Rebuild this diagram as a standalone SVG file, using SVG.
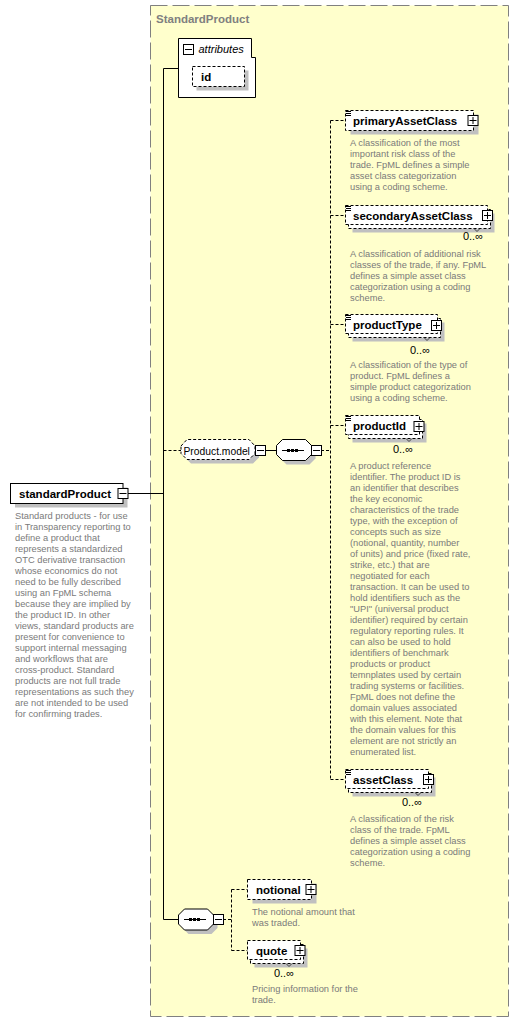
<svg xmlns="http://www.w3.org/2000/svg" xmlns:xlink="http://www.w3.org/1999/xlink" width="519" height="1023" viewBox="0 0 519 1023">
<style>
.frame{fill:#ffffcc;stroke:#808080;stroke-dasharray:17,5}
.box{fill:#fff;stroke:#000;stroke-dasharray:3,2}
.sbox{fill:#fff;stroke:#000}
.shadow{fill:#c0c0c0}
.conn{stroke:#000;fill:none}
.dconn{stroke:#000;fill:none;stroke-dasharray:3,2}
.lbl{font-family:"Liberation Sans",Arial,sans-serif;font-size:11.5px;font-weight:bold;fill:#000}
.title{font-family:"Liberation Sans",Arial,sans-serif;font-size:11.5px;font-weight:bold;fill:#808080}
.desc{font-family:"Liberation Sans",Arial,sans-serif;font-size:9.3px;fill:#7a7a7a}
.occ{font-family:"Liberation Sans",Arial,sans-serif;font-size:11px;fill:#000}
.grp{font-family:"Liberation Sans",Arial,sans-serif;font-size:10.3px;fill:#000}
.ital{font-family:"Liberation Sans",Arial,sans-serif;font-size:11px;font-style:italic;fill:#000}
.notch{stroke:#404040;fill:none}
</style>
<defs>
<g id="plus"><rect x="0.5" y="0.5" width="10" height="10" fill="#fff" stroke="#000"/><path d="M2 5.5H9M5.5 2V9" stroke="#000"/></g>
<g id="minus"><rect x="0.5" y="0.5" width="10" height="10" fill="#fff" stroke="#000"/><path d="M2 5.5H9" stroke="#000"/></g>
<path id="simple" d="M346 111.5h5M346 113.5h5M346 115.5h5" stroke="#000"/>
</defs>

<rect class="frame" x="150.5" y="5.5" width="358" height="1011"/>
<text class="title" x="156" y="23">StandardProduct</text>

<g id="connectors">
<path class="conn" d="M163.5 68.5V919.5M163.5 68.5H178.5M128 493.5H163.5M265 450.5H276.5M163.5 919.5H178.5"/>
<path class="dconn" d="M163.5 450.5H181M321 450.5H330.5M330.5 120.5V779.5M330.5 120.5H345.5M330.5 215.5H345.5M330.5 324.5H345.5M330.5 425.5H345.5M330.5 779.5H345.5"/>
<path class="dconn" d="M223 919.5H231.5M231.5 889.5V950.5M231.5 889.5H247.5M231.5 950.5H247.5"/>
</g>

<g id="standardProduct">
<rect class="shadow" x="15" y="487.5" width="112.5" height="20"/>
<rect class="sbox" x="10.5" y="483.5" width="112.5" height="20"/>
<text class="lbl" x="19" y="497.5">standardProduct</text>
<use xlink:href="#minus" x="117.5" y="488"/>
<text class="desc">
<tspan x="15" y="518.5">Standard products - for use</tspan>
<tspan x="15" y="529.5">in Transparency reporting to</tspan>
<tspan x="15" y="540.5">define a product that</tspan>
<tspan x="15" y="551.5">represents a standardized</tspan>
<tspan x="15" y="562.5">OTC derivative transaction</tspan>
<tspan x="15" y="573.5">whose economics do not</tspan>
<tspan x="15" y="584.5">need to be fully described</tspan>
<tspan x="15" y="595.5">using an FpML schema</tspan>
<tspan x="15" y="606.5">because they are implied by</tspan>
<tspan x="15" y="617.5">the product ID. In other</tspan>
<tspan x="15" y="628.5">views, standard products are</tspan>
<tspan x="15" y="639.5">present for convenience to</tspan>
<tspan x="15" y="650.5">support internal messaging</tspan>
<tspan x="15" y="661.5">and workflows that are</tspan>
<tspan x="15" y="672.5">cross-product. Standard</tspan>
<tspan x="15" y="683.5">products are not full trade</tspan>
<tspan x="15" y="694.5">representations as such they</tspan>
<tspan x="15" y="705.5">are not intended to be used</tspan>
<tspan x="15" y="716.5">for confirming trades.</tspan>
</text>
</g>

<g id="attributes">
<path class="sbox" d="M178.5 38.5H251.5V57.5H255.5V97.5H178.5Z"/>
<use xlink:href="#minus" x="183" y="44"/>
<text class="ital" x="198.5" y="52.5">attributes</text>
</g>
<g id="id">
<rect class="shadow" x="196.5" y="70.5" width="52" height="20"/>
<rect class="box" x="192.5" y="66.5" width="52" height="20"/>
<text class="lbl" x="201" y="80.5">id</text>
</g>

<g id="Product.model">
<polygon class="shadow" points="185,450 191,443.5 253,443.5 259,450 259,457.5 253,463.5 191,463.5 185,457.5"/>
<polygon class="box" points="181,446 187,439.5 249,439.5 255,446 255,453.5 249,459.5 187,459.5 181,453.5"/>
<text class="grp" x="183.5" y="454.5">Product.model</text>
<use xlink:href="#minus" x="255" y="445"/>
</g>

<g id="sequence1">
<polygon class="shadow" points="280.5,450 286.5,443.5 309.5,443.5 315.5,450 315.5,458.5 309.5,464.5 286.5,464.5 280.5,458.5"/>
<polygon class="sbox" points="276.5,445.5 282.5,439.5 305.5,439.5 311.5,445.5 311.5,454.5 305.5,460.5 282.5,460.5 276.5,454.5"/>
<path class="conn" d="M282 450.5H304"/>
<rect x="287" y="449" width="3" height="3"/><rect x="291" y="449" width="3" height="3"/><rect x="295" y="449" width="3" height="3"/>
<use xlink:href="#minus" x="311" y="445"/>
</g>

<g id="primaryAssetClass">
<rect class="shadow" x="350.5" y="114.5" width="128" height="20"/>
<rect class="box" x="345.5" y="110.5" width="128" height="20"/>
<use xlink:href="#simple"/>
<text class="lbl" x="353" y="124.5">primaryAssetClass</text>
<use xlink:href="#plus" x="467.5" y="115"/>
<text class="desc">
<tspan x="350" y="146">A classification of the most</tspan>
<tspan x="350" y="157">important risk class of the</tspan>
<tspan x="350" y="168">trade. FpML defines a simple</tspan>
<tspan x="350" y="179">asset class categorization</tspan>
<tspan x="350" y="190">using a coding scheme.</tspan>
</text>
</g>

<g id="secondaryAssetClass">
<rect class="shadow" x="352.5" y="213.5" width="142" height="19"/>
<rect class="box" x="348.5" y="209.5" width="142" height="19"/>
<path class="notch" d="M474 228.5l3 3 3-3"/>
<rect class="box" x="345.5" y="205.5" width="142" height="19"/>
<use xlink:href="#simple" y="95"/>
<text class="lbl" x="353" y="219.5">secondaryAssetClass</text>
<use xlink:href="#plus" x="482" y="210"/>
<text class="occ" x="483" y="240" text-anchor="end">0..∞</text>
<text class="desc">
<tspan x="350" y="257">A classification of additional risk</tspan>
<tspan x="350" y="268">classes of the trade, if any. FpML</tspan>
<tspan x="350" y="279">defines a simple asset class</tspan>
<tspan x="350" y="290">categorization using a coding</tspan>
<tspan x="350" y="301">scheme.</tspan>
</text>
</g>

<g id="productType">
<rect class="shadow" x="352.5" y="322.5" width="92" height="19"/>
<rect class="box" x="348.5" y="318.5" width="92" height="19"/>
<path class="notch" d="M424 337.5l3 3 3-3"/>
<rect class="box" x="345.5" y="314.5" width="92" height="19"/>
<use xlink:href="#simple" y="204"/>
<text class="lbl" x="353" y="328.5">productType</text>
<use xlink:href="#plus" x="431" y="320"/>
<text class="occ" x="430" y="354" text-anchor="end">0..∞</text>
<text class="desc">
<tspan x="350" y="368">A classification of the type of</tspan>
<tspan x="350" y="379">product. FpML defines a</tspan>
<tspan x="350" y="390">simple product categorization</tspan>
<tspan x="350" y="401">using a coding scheme.</tspan>
</text>
</g>

<g id="productId">
<rect class="shadow" x="352.5" y="423.5" width="74" height="19"/>
<rect class="box" x="348.5" y="419.5" width="74" height="19"/>
<path class="notch" d="M406 438.5l3 3 3-3"/>
<rect class="box" x="345.5" y="415.5" width="74" height="19"/>
<use xlink:href="#simple" y="305"/>
<text class="lbl" x="353" y="429.5">productId</text>
<use xlink:href="#plus" x="413.5" y="421"/>
<text class="occ" x="413" y="453" text-anchor="end">0..∞</text>
<text class="desc">
<tspan x="350" y="468.5">A product reference</tspan>
<tspan x="350" y="479.5">identifier. The product ID is</tspan>
<tspan x="350" y="490.5">an identifier that describes</tspan>
<tspan x="350" y="501.5">the key economic</tspan>
<tspan x="350" y="512.5">characteristics of the trade</tspan>
<tspan x="350" y="523.5">type, with the exception of</tspan>
<tspan x="350" y="534.5">concepts such as size</tspan>
<tspan x="350" y="545.5">(notional, quantity, number</tspan>
<tspan x="350" y="556.5">of units) and price (fixed rate,</tspan>
<tspan x="350" y="567.5">strike, etc.) that are</tspan>
<tspan x="350" y="578.5">negotiated for each</tspan>
<tspan x="350" y="589.5">transaction. It can be used to</tspan>
<tspan x="350" y="600.5">hold identifiers such as the</tspan>
<tspan x="350" y="611.5">"UPI" (universal product</tspan>
<tspan x="350" y="622.5">identifier) required by certain</tspan>
<tspan x="350" y="633.5">regulatory reporting rules. It</tspan>
<tspan x="350" y="644.5">can also be used to hold</tspan>
<tspan x="350" y="655.5">identifiers of benchmark</tspan>
<tspan x="350" y="666.5">products or product</tspan>
<tspan x="350" y="677.5">temnplates used by certain</tspan>
<tspan x="350" y="688.5">trading systems or facilities.</tspan>
<tspan x="350" y="699.5">FpML does not define the</tspan>
<tspan x="350" y="710.5">domain values associated</tspan>
<tspan x="350" y="721.5">with this element. Note that</tspan>
<tspan x="350" y="732.5">the domain values for this</tspan>
<tspan x="350" y="743.5">element are not strictly an</tspan>
<tspan x="350" y="754.5">enumerated list.</tspan>
</text>
</g>

<g id="assetClass">
<rect class="shadow" x="352.5" y="777.5" width="83" height="19"/>
<rect class="box" x="348.5" y="773.5" width="83" height="19"/>
<path class="notch" d="M415 792.5l3 3 3-3"/>
<rect class="box" x="345.5" y="769.5" width="83" height="19"/>
<use xlink:href="#simple" y="659"/>
<text class="lbl" x="353" y="783.5">assetClass</text>
<use xlink:href="#plus" x="423" y="774"/>
<text class="occ" x="422" y="806" text-anchor="end">0..∞</text>
<text class="desc">
<tspan x="350" y="821.5">A classification of the risk</tspan>
<tspan x="350" y="832.5">class of the trade. FpML</tspan>
<tspan x="350" y="843.5">defines a simple asset class</tspan>
<tspan x="350" y="854.5">categorization using a coding</tspan>
<tspan x="350" y="865.5">scheme.</tspan>
</text>
</g>

<g id="sequence2">
<polygon class="shadow" points="182.5,919 188.5,913 211.5,913 217.5,919 217.5,928 211.5,934 188.5,934 182.5,928"/>
<polygon class="sbox" points="178.5,915 184.5,909 207.5,909 213.5,915 213.5,924 207.5,930 184.5,930 178.5,924"/>
<path class="conn" d="M184 919.5H206"/>
<rect x="189" y="918" width="3" height="3"/><rect x="193" y="918" width="3" height="3"/><rect x="197" y="918" width="3" height="3"/>
<use xlink:href="#minus" x="213" y="914"/>
</g>

<g id="notional">
<rect class="shadow" x="252.5" y="883.5" width="64" height="20"/>
<rect class="box" x="247.5" y="879.5" width="64" height="20"/>
<text class="lbl" x="256" y="893.5">notional</text>
<use xlink:href="#plus" x="305.5" y="884"/>
<text class="desc">
<tspan x="252" y="915">The notional amount that</tspan>
<tspan x="252" y="926">was traded.</tspan>
</text>
</g>

<g id="quote">
<rect class="shadow" x="254.5" y="948.5" width="53" height="19"/>
<rect class="box" x="250.5" y="944.5" width="53" height="19"/>
<path class="notch" d="M286 963.5l3 3 3-3"/>
<rect class="box" x="247.5" y="940.5" width="53" height="19"/>
<text class="lbl" x="256" y="954.5">quote</text>
<use xlink:href="#plus" x="294.5" y="945"/>
<text class="occ" x="294" y="977" text-anchor="end">0..∞</text>
<text class="desc">
<tspan x="252" y="991.5">Pricing information for the</tspan>
<tspan x="252" y="1002.5">trade.</tspan>
</text>
</g>
</svg>
